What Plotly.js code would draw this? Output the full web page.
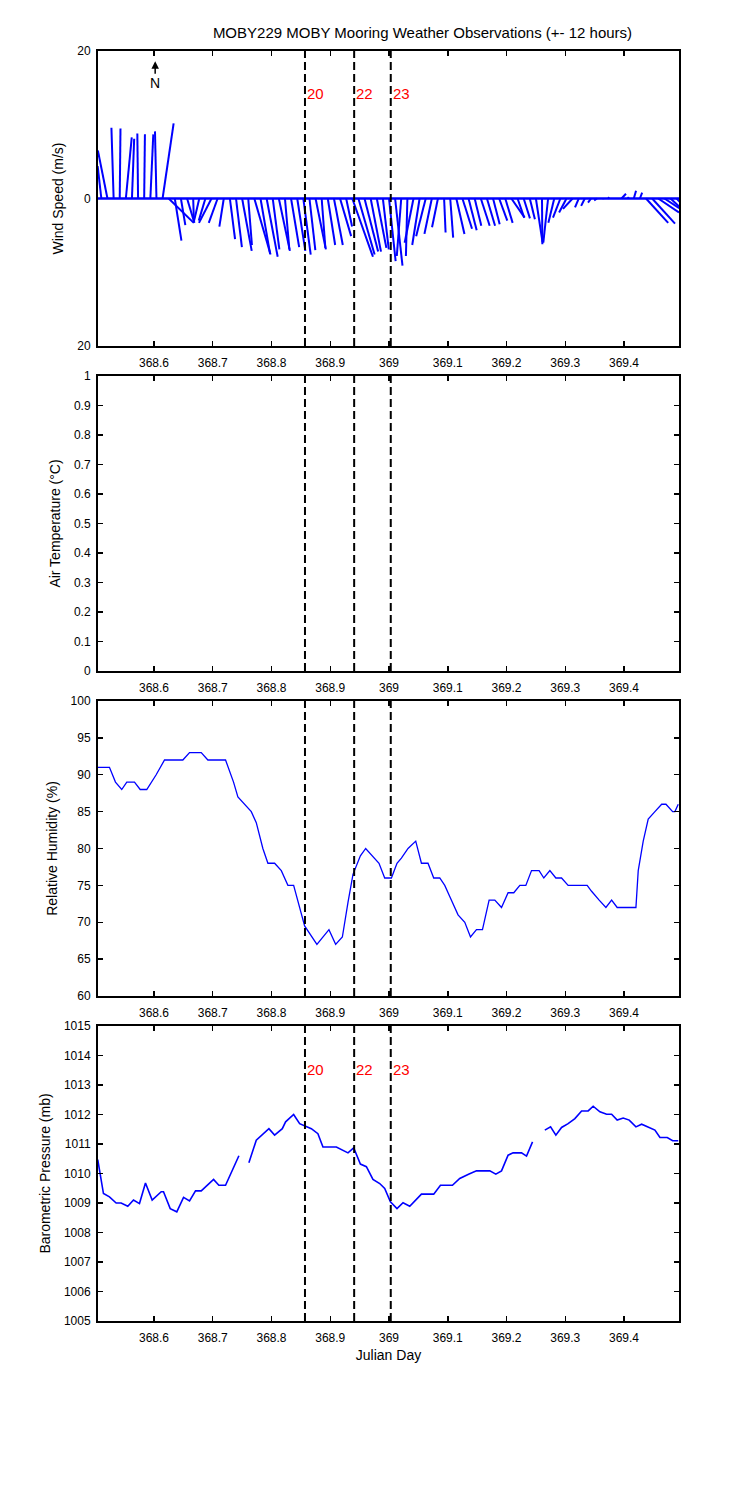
<!DOCTYPE html>
<html>
<head>
<meta charset="utf-8">
<script src="https://cdn.plot.ly/plotly-3.0.1.min.js"></script>
<style>html,body{margin:0;padding:0;background:#fff}</style>
</head>
<body>
<div id="chart" style="width:750px;height:1500px"></div>
<script>
// ---------------- data ----------------
const chartTitle = "MOBY229 MOBY Mooring Weather Observations (+- 12 hours)";
const xTickVals = [368.6, 368.7, 368.8, 368.9, 369.0, 369.1, 369.2, 369.3, 369.4];
const xTickText = ["368.6", "368.7", "368.8", "368.9", "369", "369.1", "369.2", "369.3", "369.4"];
const eventTimes = [368.857, 368.9407, 369.003];
const eventLabels = ["20", "22", "23"];

// Wind sticks (start time, east component u, north component v, m/s)
const windTime = [368.5104,368.5208,368.5313,368.5417,368.5521,368.5625,368.5729,368.5833,368.5938,368.6042,
  368.6146,368.6250,368.6354,368.6458,368.6563,368.6667,368.6771,368.6875,368.6979,368.7083,
  368.7188,368.7292,368.7396,368.7500,368.7604,368.7708,368.7813,368.7917,368.8021,368.8125,
  368.8229,368.8333,368.8438,368.8542,368.8646,368.8750,368.8854,368.8958,368.9063,368.9167,
  368.9271,368.9375,368.9479,368.9583,368.9688,368.9792,368.9896,369.0000,369.0104,369.0208,
  369.0313,369.0417,369.0521,369.0625,369.0729,369.0833,369.0938,369.1042,369.1146,369.1250,
  369.1354,369.1458,369.1563,369.1667,369.1771,369.1875,369.1979,369.2083,369.2188,369.2292,
  369.2396,369.2500,369.2604,369.2708,369.2813,369.2917,369.3021,369.3125,369.3229,369.3333,
  369.3438,369.3542,369.3646,369.3750,369.3854,369.3958,369.4063,369.4167,369.4271,369.4375,
  369.4479,369.4583,369.4688,369.4792,369.4896];
const windU = [-0.5,-1.3,-0.3,0.1,0.8,0.3,-0.1,0.1,0.4,-0.2,
  1.5,3.4,0.9,0.6,1.0,0.1,-0.7,-0.9,-1.7,-1.2,
  -0.6,0.7,0.8,1.3,0.5,2.2,1.3,1.5,0.9,1.5,
  0.6,1.1,1.1,1.0,0.8,1.4,0.5,1.0,1.2,1.5,
  0.8,2.8,2.2,1.85,1.4,1.3,0.8,0.9,1.0,-0.6,
  -0.2,-1.2,-1.0,-1.3,-1.0,-0.8,0.2,0.4,1.1,1.3,
  1.1,0.9,1.2,1.1,0.9,1.1,1.0,1.8,0.9,0.85,
  0.7,0.9,0.05,-0.65,-0.8,-1.0,-1.0,-1.3,-0.5,-0.5,
  -0.4,-0.4,0.0,-0.2,0.0,0.6,0.15,0.3,0.3,3.0,
  3.1,2.8,2.0,1.6,1.1];
const windV = [4.4,6.5,9.6,9.5,8.3,8.1,8.8,8.7,8.7,9.1,
  10.2,-3.3,-5.7,-3.6,-3.3,-3.2,-3.0,-3.0,-3.3,-3.3,
  -3.8,-5.5,-6.6,-7.1,-6.3,-7.6,-7.5,-7.9,-6.9,-7.1,
  -6.9,-6.6,-7.1,-7.6,-7.0,-6.9,-6.7,-6.3,-6.3,-5.1,
  -3.8,-7.9,-7.6,-7.2,-7.2,-6.7,-6.9,-8.5,-9.1,-7.8,
  -7.8,-6.0,-6.3,-5.1,-4.8,-3.9,-4.6,-5.3,-4.8,-4.1,
  -4.3,-3.7,-3.7,-3.7,-3.5,-3.0,-3.3,-2.6,-2.6,-2.7,
  -2.8,-5.9,-6.2,-6.0,-3.3,-2.6,-1.9,-1.4,-1.2,-1.0,
  -0.55,-0.25,-0.1,0.15,0.05,0.65,0.2,1.05,0.8,-3.3,
  -3.4,-1.9,-1.3,-1.5,-1.2];

// Relative humidity (%)
const rhTime = [368.5043,368.5242,368.5344,368.5451,368.5537,368.5668,368.5765,368.5877,368.6037,368.6179,
  368.6491,368.6605,368.6804,368.6917,368.7218,368.7354,368.7428,368.7542,368.7656,368.7741,
  368.7853,368.7939,368.8053,368.8167,368.8279,368.8377,368.8479,368.8564,368.8773,368.8978,
  368.9092,368.9206,368.9302,368.9387,368.9513,368.9603,368.9830,368.9927,369.0041,369.0136,
  369.0211,369.0324,369.0455,369.0552,369.0664,369.0761,369.0864,369.0949,369.1034,369.1175,
  369.1290,369.1387,369.1489,369.1591,369.1704,369.1801,369.1915,369.2027,369.2124,369.2227,
  369.2329,369.2426,369.2555,369.2635,369.2738,369.2840,369.2937,369.3049,369.3373,369.3448,
  369.3577,369.3692,369.3789,369.3884,369.4203,369.4242,369.4327,369.4412,369.4526,369.4641,
  369.4714,369.4828,369.4867,369.4923];
const rhVal = [91,91,89,88,89,89,88,88,90,92,
  92,93,93,92,92,89,87,86,85,83.5,
  80,78,78,77,75,75,72,69.5,67,69,
  67,68,72.7,76.5,79,80,78,76,76,78,
  78.7,80,81,78,78,76,76,75,73.5,71,
  70,68,69,69,73,73,72,74,74,75,
  75,77,77,76,77,76,76,75,75,74.2,
  73,72,73,72,72,77,81,84,85,86,
  86,85,85,86];

// Barometric pressure (mb); null = missing data
const bpTime = [368.5043,368.5140,368.5242,368.5356,368.5441,368.5554,368.5651,368.5753,368.5855,368.5969,
  368.6123,368.6162,368.6276,368.6388,368.6503,368.6605,368.6707,368.6804,368.7014,368.7104,
  368.7218,368.7332,368.7445,368.7530,368.7615,368.7741,368.7956,368.8053,368.8184,368.8240,
  368.8377,368.8479,368.8678,368.8790,368.8876,368.9104,368.9302,368.9399,368.9513,368.9615,
  368.9727,368.9842,368.9927,369.0024,369.0136,369.0239,369.0353,369.0552,369.0761,369.0876,
  369.1080,369.1204,369.1363,369.1489,369.1716,369.1818,369.1915,369.2027,369.2112,369.2256,
  369.2341,369.2443,369.2550,369.2652,369.2750,369.2840,369.2937,369.3049,369.3164,369.3278,
  369.3390,369.3475,369.3590,369.3704,369.3789,369.3884,369.3986,369.4089,369.4203,369.4300,
  369.4429,369.4526,369.4612,369.4736,369.4828,369.4923];
const bpVal = [1010.47,1009.32,1009.21,1009.0,1009.0,1008.89,1009.10,1008.98,1009.68,1009.10,
  1009.38,1009.38,1008.81,1008.70,1009.19,1009.07,1009.41,1009.41,1009.80,1009.60,
  1009.60,1010.11,1010.60,null,1010.36,1011.13,1011.52,1011.30,1011.52,1011.75,
  1012.0,1011.69,1011.52,1011.35,1010.90,1010.90,1010.70,1010.87,1010.32,1010.23,
  1009.80,1009.66,1009.49,1009.04,1008.81,1009.01,1008.89,1009.30,1009.30,1009.60,
  1009.60,1009.83,1009.98,1010.09,1010.09,1009.98,1010.09,1010.62,1010.70,1010.70,
  1010.59,1011.07,null,1011.47,1011.58,1011.30,1011.56,1011.69,1011.86,1012.12,
  1012.12,1012.28,1012.09,1012.01,1012.01,1011.81,1011.88,1011.81,1011.58,1011.67,
  1011.56,1011.47,1011.22,1011.22,1011.11,1011.11];

// ---------------- layout geometry ----------------
const W = 750, H = 1500;
const M = {l: 98, r: 71, t: 51, b: 179};
const plotW = W - M.l - M.r, plotH = H - M.t - M.b;
const X_RANGE = [368.5047, 369.4936];
const dom1 = [0.7677, 1], dom2 = [0.5118, 0.7441], dom3 = [0.2559, 0.4882], dom4 = [0, 0.2323];
const windRange = [-20, 20];

// stick scaling: 1 m/s horizontally covers same pixels as 1 m/s vertically
const pxPerDay = plotW / (X_RANGE[1] - X_RANGE[0]);
const pxPerMs = (dom1[1] - dom1[0]) * plotH / (windRange[1] - windRange[0]);
const stickScale = pxPerMs / pxPerDay;

const sx = [], sy = [];
for (let i = 0; i < windTime.length; i++) {
  sx.push(windTime[i], windTime[i] + windU[i] * stickScale, null);
  sy.push(0, windV[i], null);
}

const FONT = "Arial, 'Liberation Sans', Helvetica, sans-serif";
const BLUE = "#0000ff";

const traces = [
  {x: sx, y: sy, xaxis: 'x', yaxis: 'y', mode: 'lines', type: 'scatter',
   line: {color: BLUE, width: 2}, hoverinfo: 'skip', showlegend: false},
  {x: rhTime, y: rhVal, xaxis: 'x3', yaxis: 'y3', mode: 'lines', type: 'scatter',
   line: {color: BLUE, width: 1.3}, showlegend: false},
  {x: bpTime, y: bpVal, xaxis: 'x4', yaxis: 'y4', mode: 'lines', type: 'scatter',
   connectgaps: false, line: {color: BLUE, width: 1.6}, showlegend: false}
];

function xAxis(anchor, title) {
  const ax = {
    domain: [0, 1], range: X_RANGE, anchor: anchor,
    tickmode: 'array', tickvals: xTickVals, ticktext: xTickText,
    ticks: 'inside', ticklen: 5, tickwidth: 1.5, tickcolor: '#000',
    showline: true, linewidth: 2, linecolor: '#000', mirror: 'ticks',
    showgrid: false, zeroline: false, ticklabelstandoff: 5,
    tickfont: {family: FONT, size: 12, color: '#000'}
  };
  if (title) ax.title = {text: title, font: {family: FONT, size: 14, color: '#000'}, standoff: 6};
  return ax;
}
function yAxis(anchor, domain, range, vals, text, title) {
  return {
    domain: domain, range: range, anchor: anchor,
    tickmode: 'array', tickvals: vals, ticktext: text,
    ticks: 'inside', ticklen: 5, tickwidth: 1.5, tickcolor: '#000',
    showline: true, linewidth: 2, linecolor: '#000', mirror: 'ticks',
    showgrid: false, zeroline: false, ticklabelstandoff: 3,
    tickfont: {family: FONT, size: 12, color: '#000'},
    title: {text: title, font: {family: FONT, size: 14, color: '#000'}, standoff: 10}
  };
}

const atVals = [0,0.1,0.2,0.3,0.4,0.5,0.6,0.7,0.8,0.9,1];
const atText = ["0","0.1","0.2","0.3","0.4","0.5","0.6","0.7","0.8","0.9","1"];
const rhVals = [60,65,70,75,80,85,90,95,100];
const bpVals = [1005,1006,1007,1008,1009,1010,1011,1012,1013,1014,1015];

const shapes = [];
// wind baseline
shapes.push({type: 'line', xref: 'x domain', yref: 'y', x0: 0, x1: 1, y0: 0, y1: 0,
  line: {color: BLUE, width: 2.5}});
['', '2', '3', '4'].forEach(s => {
  eventTimes.forEach(t => {
    shapes.push({type: 'line', xref: 'x' + s, yref: 'y' + s + ' domain', x0: t, x1: t, y0: 0, y1: 1,
      line: {color: '#000', width: 2, dash: '8px,4px'}});
  });
});

const annotations = [];
eventTimes.forEach((t, i) => {
  annotations.push({xref: 'x', yref: 'y', x: t, y: 14.2, text: eventLabels[i], showarrow: false,
    xanchor: 'left', yanchor: 'middle', xshift: 0, font: {family: FONT, size: 15, color: '#ff0000'}});
  annotations.push({xref: 'x4', yref: 'y4', x: t, y: 1013.53, text: eventLabels[i], showarrow: false,
    xanchor: 'left', yanchor: 'middle', xshift: 0, font: {family: FONT, size: 15, color: '#ff0000'}});
});
// north arrow
annotations.push({xref: 'x', yref: 'y', x: 368.602, y: 18.6, text: 'N', showarrow: true,
  ax: 0, ay: 22, arrowhead: 2, arrowsize: 1, arrowwidth: 1.5, arrowcolor: '#000', standoff: 0,
  font: {family: FONT, size: 14, color: '#000'}});

const layout = {
  width: W, height: H, margin: M,
  paper_bgcolor: '#fff', plot_bgcolor: '#fff',
  font: {family: FONT, color: '#000'},
  showlegend: false,
  title: {text: chartTitle, xref: 'paper', x: 0.5585, xanchor: 'center',
    yref: 'container', y: 1 - 33 / H, yanchor: 'middle', font: {family: FONT, size: 15, color: '#000'}},
  xaxis: xAxis('y'),
  xaxis2: xAxis('y2'),
  xaxis3: xAxis('y3'),
  xaxis4: xAxis('y4', 'Julian Day'),
  yaxis: yAxis('x', dom1, windRange, [-20, 0, 20], ["20", "0", "20"], 'Wind Speed (m/s)'),
  yaxis2: yAxis('x2', dom2, [0, 1], atVals, atText, 'Air Temperature (°C)'),
  yaxis3: yAxis('x3', dom3, [60, 100], rhVals, rhVals.map(String), 'Relative Humidity (%)'),
  yaxis4: yAxis('x4', dom4, [1005, 1015], bpVals, bpVals.map(String), 'Barometric Pressure (mb)'),
  shapes: shapes,
  annotations: annotations
};

Plotly.newPlot('chart', traces, layout, {staticPlot: true, displayModeBar: false});
</script>
</body>
</html>
